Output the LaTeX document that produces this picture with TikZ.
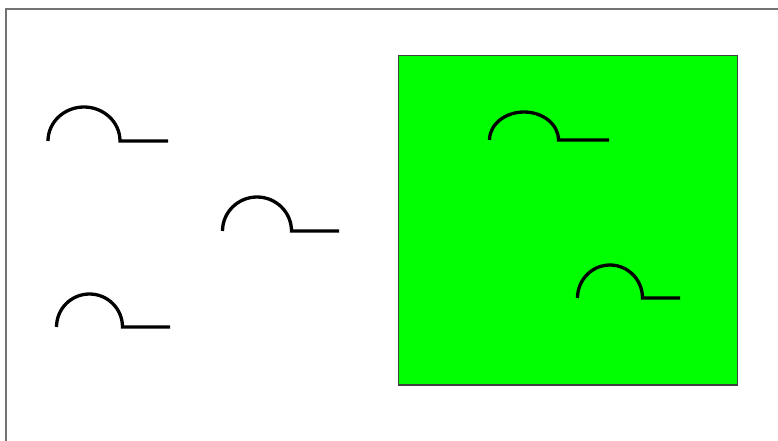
\documentclass[tikz,border=0pt]{standalone}
\begin{document}
\begin{tikzpicture}[x=1pt,y=-1pt,
  symb/.style={line width=3.3pt,black,line join=miter},
  frameline/.style={line width=2.4pt,draw=black!55},
  greenbox/.style={fill={rgb,255:red,0;green,255;blue,0},draw=black!75,line width=1.5pt}]
\useasboundingbox (0,0) rectangle (778,441);
\draw[frameline] (6,441) -- (6,9) -- (778,9);
\draw[greenbox] (398.5,55.5) rectangle (737.5,385);
% symbols: left end of arc, x radius, y radius, line end
\newcommand{\arcsym}[5]{%
  \draw[symb] (#1,#2) arc[start angle=180,end angle=0,x radius=#3,y radius=-#4] -- (#5,#2);}
\arcsym{48}{141}{36}{34}{168}
\arcsym{222.5}{231}{34.5}{34}{339}
\arcsym{56.5}{327}{33}{33}{170}
\arcsym{489.5}{140}{34.5}{28}{609}
\arcsym{577.5}{298}{32.5}{33}{680}
\end{tikzpicture}
\end{document}
